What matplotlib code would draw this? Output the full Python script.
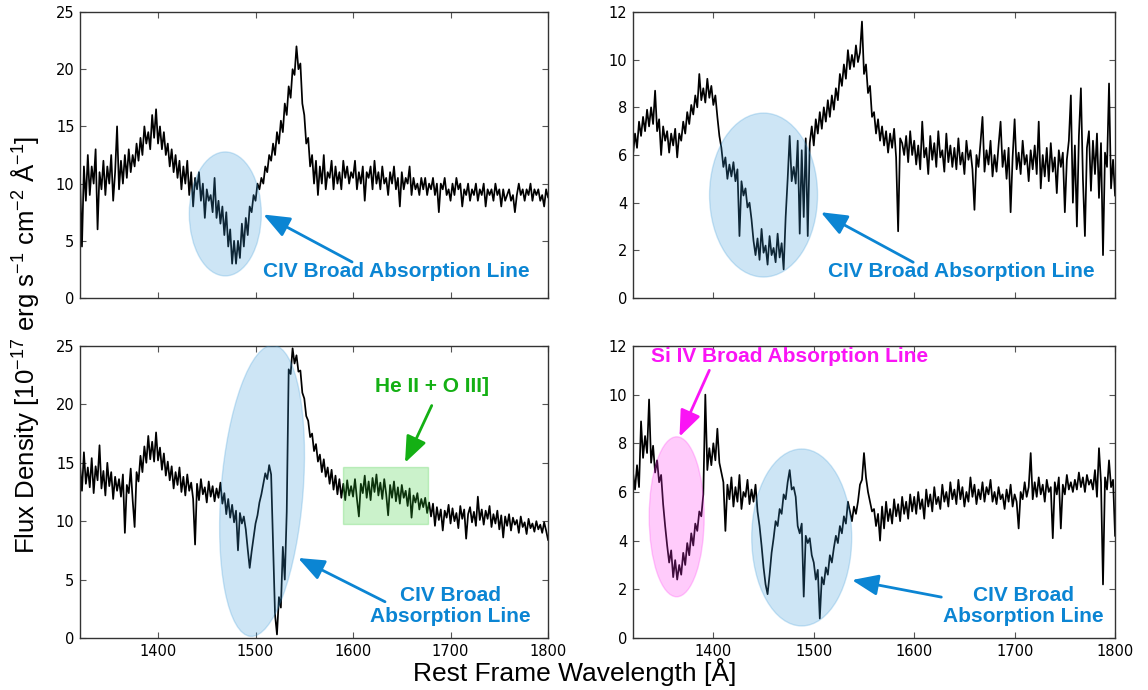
import numpy as np
import matplotlib
matplotlib.use("Agg")
import matplotlib.pyplot as plt
from matplotlib.patches import Ellipse, Rectangle
from matplotlib.transforms import ScaledTranslation

plt.rcParams["mathtext.fontset"] = "custom"
plt.rcParams["mathtext.rm"] = "Liberation Sans"
plt.rcParams["mathtext.it"] = "Liberation Sans:italic"

# rest frame wavelength grid [A], 2 A steps
wavelength = np.arange(1320, 1801, 2)

# top left quasar, 20 values per row (40 A)
flux_a = [
    10.5, 4.5, 11.5, 8.5, 12.5, 9.0, 11.5, 10.0, 13.0, 6.0, 11.0, 9.5, 12.0, 9.0, 11.5, 10.0, 12.5, 8.5, 11.0, 15.0,
    9.5, 12.0, 10.0, 12.5, 10.5, 13.0, 11.0, 12.5, 11.5, 13.5, 12.0, 14.0, 12.5, 15.0, 13.5, 14.5, 13.0, 16.0, 14.0, 16.5,
    13.5, 15.0, 13.0, 14.5, 12.5, 13.5, 11.5, 13.0, 11.0, 12.5, 10.5, 12.0, 9.5, 11.5, 10.0, 12.0, 9.0, 11.0, 8.0, 10.5,
    9.5, 11.0, 8.5, 10.0, 7.0, 9.5, 8.5, 9.0, 7.5, 10.5, 7.0, 8.5, 6.5, 8.0, 5.5, 7.5, 4.5, 6.0, 3.0, 5.0,
    3.0, 5.0, 3.5, 6.5, 4.5, 7.0, 5.5, 8.0, 7.5, 9.0, 8.5, 10.0, 9.5, 10.5, 10.0, 11.5, 11.0, 12.5, 12.0, 13.5,
    12.5, 14.5, 13.5, 15.5, 14.5, 17.0, 16.0, 18.5, 17.5, 20.0, 19.5, 22.0, 20.0, 20.5, 17.0, 16.0, 13.5, 14.0, 11.5, 12.5,
    10.0, 12.0, 9.0, 11.5, 10.0, 12.5, 9.5, 11.0, 10.5, 12.0, 9.5, 11.5, 10.0, 11.0, 9.5, 12.0, 10.5, 11.5, 10.0, 11.0,
    10.5, 12.0, 9.5, 11.0, 10.0, 11.5, 8.5, 11.0, 10.5, 11.5, 9.5, 12.0, 10.0, 11.0, 9.5, 11.5, 10.0, 10.5, 9.0, 11.0,
    10.0, 11.5, 9.5, 10.5, 8.0, 11.0, 9.5, 10.5, 10.0, 11.5, 9.0, 10.5, 9.5, 10.0, 9.0, 10.5, 9.5, 10.5, 9.0, 10.0,
    9.5, 10.5, 9.0, 10.0, 7.5, 10.0, 9.5, 10.5, 9.0, 9.5, 8.5, 10.0, 9.0, 10.5, 9.5, 10.0, 8.0, 9.5, 9.0, 10.0,
    8.5, 9.5, 9.0, 10.0, 8.5, 9.5, 9.0, 10.0, 8.0, 9.5, 9.0, 9.5, 8.5, 10.0, 9.0, 9.5, 8.0, 9.5, 8.5, 9.0,
    9.5, 8.5, 9.0, 7.5, 9.0, 10.0, 9.0, 9.5, 8.5, 9.5, 9.0, 10.0, 8.5, 9.5, 9.0, 9.5, 8.5, 9.0, 8.0, 9.5,
    8.8,
]

# top right quasar
flux_b = [
    6.0, 6.9, 6.3, 7.4, 6.8, 7.6, 7.0, 7.9, 7.2, 8.0, 7.3, 8.7, 7.0, 7.5, 6.0, 7.2, 6.6, 7.0, 6.1, 6.9,
    6.4, 7.1, 5.9, 6.9, 6.6, 7.4, 6.9, 7.8, 7.3, 8.1, 7.7, 8.5, 8.0, 9.4, 8.3, 8.8, 8.2, 9.2, 8.4, 8.9,
    8.1, 8.5, 7.6, 6.8, 6.3, 5.5, 5.9, 5.0, 5.6, 5.1, 5.7, 4.9, 5.4, 2.6, 4.9, 4.3, 4.6, 3.8, 4.0, 3.3,
    2.4, 1.8, 2.5, 1.6, 2.9, 1.9, 2.2, 1.4, 2.6, 1.8, 2.1, 1.5, 2.7, 1.7, 2.3, 1.2, 3.4, 5.0, 6.8, 4.9,
    5.5, 4.8, 6.6, 2.7, 6.2, 3.4, 6.7, 2.6, 6.5, 7.2, 6.4, 7.5, 6.9, 7.8, 7.1, 8.0, 7.4, 8.3, 7.6, 8.5,
    7.9, 8.8, 8.3, 9.4, 8.9, 9.8, 9.2, 10.4, 9.6, 10.2, 9.7, 10.6, 9.9, 10.3, 11.6, 9.4, 9.8, 8.6, 8.9, 7.6,
    7.8, 6.9, 7.5, 6.6, 7.2, 6.4, 7.0, 6.1, 6.9, 6.3, 7.1, 5.9, 2.8, 6.7, 6.5, 6.0, 6.8, 5.7, 7.0, 6.0,
    6.6, 5.6, 6.4, 5.4, 7.4, 5.9, 6.3, 5.2, 6.8, 5.8, 6.5, 5.5, 7.0, 5.9, 6.2, 5.3, 6.9, 5.7, 6.4, 5.5,
    6.3, 5.4, 6.7, 5.6, 6.1, 5.2, 6.6, 5.8, 6.2, 5.4, 3.7, 6.0, 5.5, 6.5, 7.6, 5.3, 6.2, 5.6, 6.6, 5.1,
    6.0, 5.3, 6.4, 7.4, 5.5, 6.2, 5.0, 6.3, 3.6, 5.9, 7.5, 5.4, 6.1, 5.2, 6.6, 5.6, 6.0, 4.9, 6.2, 5.4,
    6.4, 5.2, 7.4, 4.6, 6.0, 5.1, 6.3, 4.9, 6.5, 5.3, 5.9, 4.4, 6.2, 5.5, 6.1, 3.6, 5.8, 6.6, 8.5, 4.0,
    6.4, 3.0, 6.8, 8.8, 5.0, 2.6, 6.3, 7.0, 4.5, 6.6, 5.2, 6.9, 4.2, 6.5, 1.8, 6.1, 5.5, 9.0, 4.6, 5.8,
    4.3,
]

# bottom left quasar
flux_c = [
    14.8, 12.6, 15.9, 13.2, 14.6, 12.9, 15.4, 12.4, 14.7, 13.5, 16.5, 12.8, 14.3, 12.2, 15.0, 13.0, 14.2, 11.9, 13.8, 12.6,
    13.6, 12.1, 14.0, 9.0, 13.1, 12.4, 14.5, 11.8, 9.5, 14.2, 13.4, 15.6, 14.2, 16.4, 15.0, 17.3, 15.3, 16.8, 15.1, 17.6,
    15.2, 16.3, 14.4, 15.8, 13.9, 15.1, 13.5, 14.7, 12.8, 14.2, 13.1, 14.6, 12.5, 13.8, 12.2, 14.0, 12.6, 13.3, 11.9, 8.0,
    13.2, 11.8, 13.6, 12.3, 12.9, 11.6, 13.4, 12.1, 13.0, 11.7, 12.8, 12.0, 13.3, 11.5, 12.4, 10.6, 11.9, 10.3, 11.4, 9.9,
    10.9, 7.5, 10.7, 9.8, 10.4, 9.3, 7.6, 6.0, 7.4, 8.6, 9.8, 10.5, 11.6, 12.3, 13.2, 14.1, 13.6, 14.8, 14.0, 8.0,
    2.0, 0.3, 3.5, 2.6, 7.8, 5.0, 10.8, 23.0, 22.6, 24.8, 23.5, 24.2, 22.8, 22.9, 21.0, 20.5, 19.0, 18.6, 17.2, 17.5,
    16.0, 16.6, 15.1, 15.7, 14.2, 15.3, 13.8, 14.6, 13.2, 14.4, 12.7, 13.9, 12.3, 13.6, 12.0, 13.2, 11.8, 13.5, 12.2, 13.0,
    12.1, 13.6, 11.9, 10.4, 13.2, 12.4, 13.9, 12.0, 13.4, 11.8, 13.7, 12.5, 14.0, 12.2, 13.3, 11.9, 13.6, 12.3, 10.5, 13.1,
    12.0, 13.4, 11.7, 12.9, 11.5, 13.1, 12.0, 12.6, 11.3, 12.8, 10.3, 12.2, 11.6, 12.4, 11.0, 11.9, 11.2, 12.0, 10.7, 11.6,
    10.4, 11.5, 9.6, 11.2, 10.1, 11.0, 9.2, 10.9, 10.3, 11.4, 9.8, 11.1, 10.0, 10.7, 9.4, 11.3, 10.2, 11.0, 8.5, 10.6,
    11.2, 9.9, 10.8, 9.6, 12.1, 10.1, 11.0, 9.7, 10.9, 10.2, 11.3, 9.5, 10.6, 9.8, 10.9, 9.3, 10.5, 8.6, 10.4, 9.6,
    10.6, 9.2, 10.3, 9.7, 10.1, 9.0, 10.4, 9.5, 9.9, 8.9, 10.2, 9.4, 9.8, 9.1, 10.0, 9.3, 9.7, 9.0, 9.9, 9.2,
    8.4,
]

# bottom right quasar
flux_d = [
    6.8, 6.1, 7.1, 6.2, 8.9, 7.4, 8.3, 7.6, 9.8, 7.2, 7.9, 6.8, 7.3, 6.4, 6.7, 5.5, 4.6, 3.8, 3.1, 3.6,
    2.5, 3.2, 2.4, 3.0, 2.6, 3.5, 3.0, 3.9, 3.4, 4.3, 3.8, 4.7, 4.4, 5.2, 5.0, 5.9, 10.0, 6.9, 7.8, 7.1,
    8.0, 7.3, 8.6, 7.2, 6.8, 6.4, 4.4, 6.3, 5.7, 6.6, 5.4, 6.2, 5.6, 6.7, 5.3, 6.0, 5.8, 6.5, 5.5, 6.1,
    5.6, 6.3, 5.2, 4.6, 3.8, 2.9, 2.2, 1.8, 2.6, 3.5, 4.1, 4.8, 4.6, 5.3, 5.1, 5.9, 5.7, 6.4, 6.9, 6.1,
    6.2, 5.8, 4.6, 4.3, 4.7, 1.7, 4.2, 3.9, 4.1, 3.4, 3.1, 2.4, 2.8, 0.8, 2.5, 2.2, 2.9, 2.6, 3.4, 3.1,
    3.7, 4.2, 3.9, 4.6, 4.3, 5.0, 4.7, 5.6, 5.2, 4.8, 5.4, 5.1, 5.6, 6.3, 6.5, 7.6, 6.6, 6.0, 5.6, 5.2,
    5.3, 4.6, 5.1, 4.0, 5.4, 4.5, 5.6, 4.8, 5.3, 4.7, 5.7, 5.0, 5.5, 4.8, 5.8, 5.1, 5.6, 4.9, 5.9, 5.2,
    5.8, 5.1, 6.0, 5.3, 5.7, 4.9, 6.1, 5.4, 5.9, 5.2, 6.2, 5.5, 5.8, 5.3, 6.3, 5.6, 6.0, 5.4, 6.4, 5.7,
    6.1, 5.5, 6.5, 5.7, 6.2, 5.4, 6.0, 5.6, 6.6, 5.8, 6.3, 5.5, 6.1, 5.7, 6.4, 5.6, 6.2, 5.9, 6.5, 5.6,
    6.0, 5.5, 6.2, 5.7, 5.9, 5.3, 6.1, 5.6, 6.3, 5.4, 5.9, 5.6, 4.5, 6.0, 5.7, 6.4, 5.8, 6.2, 7.6, 5.7,
    6.4, 5.8, 6.6, 5.9, 6.3, 5.6, 6.5, 6.0, 6.2, 4.1, 6.4, 5.9, 6.6, 4.5, 6.3, 5.9, 6.7, 6.1, 6.4, 6.0,
    6.5, 6.1, 6.8, 6.2, 6.6, 6.0, 6.7, 6.3, 6.5, 6.1, 6.9, 5.8, 7.8, 6.4, 2.2, 6.6, 6.1, 7.3, 6.2, 6.5,
    4.2,
]

BLUE = "#0b85d3"
GREEN = "#14b014"
MAGENTA = "#fa14f5"

fig = plt.figure(figsize=(11.48, 6.9), dpi=100)

positions = [
    [0.0697, 0.5681, 0.4077, 0.4145],
    [0.5514, 0.5681, 0.4199, 0.4145],
    [0.0697, 0.0754, 0.4077, 0.4232],
    [0.5514, 0.0754, 0.4199, 0.4232],
]
fluxes = [flux_a, flux_b, flux_c, flux_d]
ymax = [25, 12, 25, 12]
ystep = [5, 2, 5, 2]

axes = []
for i, pos in enumerate(positions):
    ax = fig.add_axes(pos)
    ax.plot(wavelength, fluxes[i], color="black", lw=1.25, zorder=2)
    ax.set_xlim(1320, 1800)
    ax.set_ylim(0, ymax[i])
    ax.set_xticks([1400, 1500, 1600, 1700, 1800])
    ax.set_yticks(np.arange(0, ymax[i] + 1, ystep[i]))
    ax.tick_params(direction="in", top=True, right=True, length=4,
                   color="#555555", labelsize=10.5, pad=4)
    if i < 2:
        ax.tick_params(labelbottom=False)
    for sp in ax.spines.values():
        sp.set_color("#333333")
        sp.set_linewidth(1.0)
    axes.append(ax)


def blob(ax, x, y, w, h, color, angle=0.0):
    # ellipse centred on a data point, size given in inches
    tr = fig.dpi_scale_trans + ScaledTranslation(x, y, ax.transData)
    e = Ellipse((0, 0), w, h, angle=angle, transform=tr,
                facecolor=color, edgecolor=color, alpha=0.25,
                lw=1.0, zorder=3)
    ax.add_patch(e)


def callout(ax, text, head, tail, where, color):
    ax.annotate("", xy=head, xytext=tail,
                arrowprops=dict(arrowstyle="-|>,head_length=0.8,head_width=0.32",
                                color=color, lw=2.0, mutation_scale=20,
                                shrinkA=0, shrinkB=0), zorder=4)
    ax.text(where[0], where[1], text, color=color, fontsize=15,
            fontweight="bold", family="Liberation Sans", ha="center",
            va="center", linespacing=1.1, zorder=4)


ax1, ax2, ax3, ax4 = axes

blob(ax1, 1469, 7.35, 0.72, 1.24, "#3a9ad9")
callout(ax1, "CIV Broad Absorption Line", (1508, 7.3), (1599, 3.15),
        (1644, 2.3), BLUE)

blob(ax2, 1450, 4.32, 1.08, 1.64, "#3a9ad9")
callout(ax2, "CIV Broad Absorption Line", (1507, 3.6), (1599, 1.5),
        (1647, 1.1), BLUE)

blob(ax3, 1506.7, 12.6, 0.82, 2.92, "#3a9ad9", angle=-4.5)
ax3.add_patch(Rectangle((1590, 9.75), 87, 4.9, facecolor="#33cc33",
                        edgecolor="#33cc33", alpha=0.25, lw=1.0, zorder=3))
callout(ax3, "CIV Broad\nAbsorption Line", (1543.6, 6.85), (1632.8, 3.1),
        (1699.5, 2.75), BLUE)
callout(ax3, "He II + O III]", (1653.3, 15.0), (1680.7, 19.9),
        (1680.7, 21.5), GREEN)

blob(ax4, 1363.5, 4.98, 0.55, 1.60, "#ff33f2")
blob(ax4, 1488, 4.13, 1.00, 1.77, "#3a9ad9")
callout(ax4, "Si IV Broad Absorption Line", (1366.3, 8.27), (1396, 11.0),
        (1475.5, 11.55), MAGENTA)
callout(ax4, "CIV Broad\nAbsorption Line", (1538, 2.38), (1627, 1.68),
        (1709, 1.32), BLUE)

fig.text(0.022, 0.5,
         "Flux Density [10$^{-17}$ erg s$^{-1}$ cm$^{-2}$ \u00c5$^{-1}$]",
         rotation=90, ha="center", va="center", fontsize=18.5,
         family="Liberation Sans")
fig.text(0.501, 0.026, "Rest Frame Wavelength [\u00c5]", ha="center",
         va="center", fontsize=19, family="Liberation Sans")

fig.savefig("out.png", dpi=100)
